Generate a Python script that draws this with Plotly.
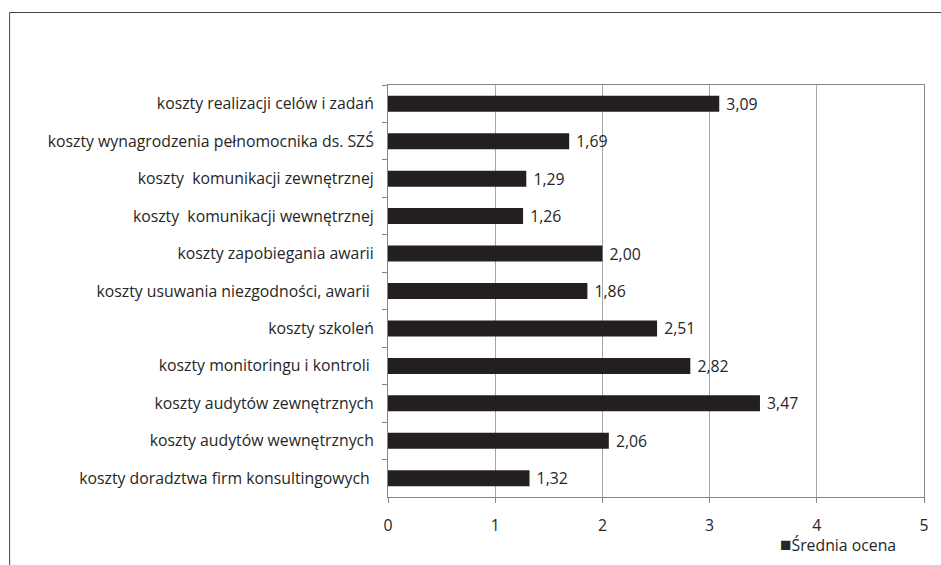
import plotly.graph_objects as go

categories = [
    "koszty realizacji celów i zadań",
    "koszty wynagrodzenia pełnomocnika ds. SZŚ",
    "koszty  komunikacji zewnętrznej",
    "koszty  komunikacji wewnętrznej",
    "koszty zapobiegania awarii",
    "koszty usuwania niezgodności, awarii ",
    "koszty szkoleń",
    "koszty monitoringu i kontroli ",
    "koszty audytów zewnętrznych",
    "koszty audytów wewnętrznych",
    "koszty doradztwa firm konsultingowych ",
]
values = [3.09, 1.69, 1.29, 1.26, 2.00, 1.86, 2.51, 2.82, 3.47, 2.06, 1.32]
series_name = "Średnia ocena"
x_ticks = [0, 1, 2, 3, 4, 5]

W, H = 941, 565
L, R, T, B = 388, 14, 85, 68
pw, ph = W - L - R, H - T - B

def px_x(p):
    return (p - L) / pw

def px_y(p):
    return (H - B - p) / ph

FONT = "Open Sans"
FS = 15.8
TXT = "#262626"
BAR = "#231f20"

fig = go.Figure(
    go.Bar(
        y=categories,
        x=values,
        orientation="h",
        name=series_name,
        marker=dict(color=BAR, line=dict(width=0)),
        texttemplate="\u00a0%{x:.2f}",
        textposition="outside",
        constraintext="none",
        textfont=dict(family=FONT, size=FS, color=TXT),
        cliponaxis=False,
        showlegend=False,
        hoverinfo="skip",
    )
)

fig.update_layout(
    width=W,
    height=H,
    margin=dict(l=L, r=R, t=T, b=B, pad=0),
    paper_bgcolor="white",
    plot_bgcolor="white",
    separators=",.",
    bargap=0.573,
    font=dict(family=FONT, size=FS, color=TXT),
    xaxis=dict(
        range=[0, 5],
        tickvals=x_ticks,
        ticktext=[str(v) for v in x_ticks],
        showgrid=True,
        gridcolor="#a6a6a6",
        gridwidth=1,
        zeroline=False,
        showline=True,
        linecolor="#868686",
        linewidth=1,
        mirror=True,
        ticks="outside",
        ticklen=5,
        tickcolor="#868686",
        ticklabelstandoff=9,
        tickfont=dict(family=FONT, size=FS, color=TXT),
    ),
    yaxis=dict(
        autorange="reversed",
        showgrid=False,
        zeroline=False,
        showline=True,
        linecolor="#868686",
        linewidth=1,
        mirror=True,
        ticks="outside",
        ticklen=5,
        tickcolor="#868686",
        tickson="boundaries",
        ticklabelstandoff=10,
        tickfont=dict(family=FONT, size=FS, color=TXT),
    ),
    shapes=[
        dict(
            type="rect",
            xref="paper",
            yref="paper",
            x0=px_x(7.5),
            x1=px_x(960),
            y0=px_y(590),
            y1=px_y(12.5),
            line=dict(color="#444444", width=1),
            fillcolor="rgba(0,0,0,0)",
            layer="below",
        )
    ],
    annotations=[
        dict(
            xref="paper",
            yref="paper",
            x=px_x(780),
            y=px_y(544),
            xanchor="left",
            yanchor="middle",
            text="<span style='font-size:19px'>■</span>" + series_name,
            showarrow=False,
            font=dict(family=FONT, size=FS, color=TXT),
        )
    ],
)

fig.write_html(
    "out.html",
    config={"displayModeBar": False},
    post_script="document.body.style.margin='0';document.body.style.overflow='hidden';",
)
